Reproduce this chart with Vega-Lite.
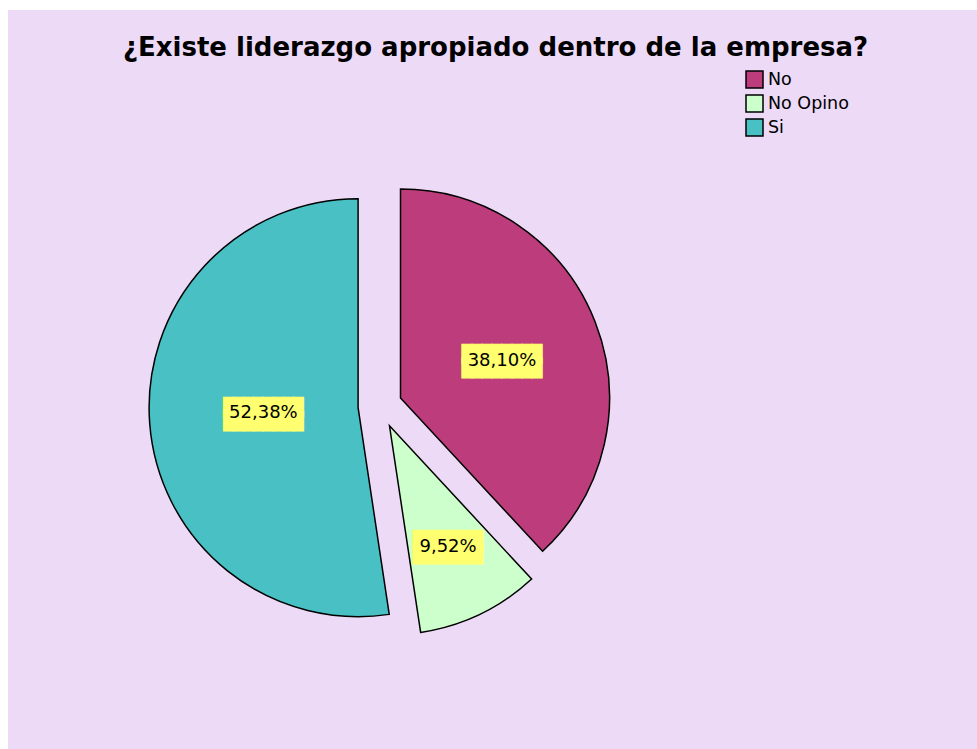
{
  "$schema": "https://vega.github.io/schema/vega-lite/v6.json",
  "width": 969,
  "height": 739,
  "autosize": {"type": "none"},
  "padding": {"left": 8, "top": 10, "right": 0, "bottom": 0},
  "background": "#ffffff",
  "view": {"fill": "#ecdaf7", "stroke": null},
  "config": {"view": {"stroke": null}},
  "title": {
    "text": "¿Existe liderazgo apropiado dentro de la empresa?",
    "font": "DejaVu Sans",
    "fontSize": 26,
    "fontWeight": "bold",
    "color": "#000000",
    "anchor": "middle",
    "frame": "group",
    "baseline": "alphabetic",
    "offset": -72,
    "dx": 3
  },
  "data": {
    "values": [
      {"cat": "No", "pct": 38.10, "label": "38,10%"},
      {"cat": "No Opino", "pct": 9.52, "label": "9,52%"},
      {"cat": "Si", "pct": 52.38, "label": "52,38%"}
    ]
  },
  "encoding": {
    "theta": {"field": "pct", "type": "quantitative", "stack": true},
    "order": {"field": "cat", "type": "nominal", "sort": "ascending"}
  },
  "layer": [
    {
      "mark": {"type": "arc", "outerRadius": 209, "stroke": "#000000", "strokeWidth": 1.5, "xOffset": -92, "yOffset": 18.5},
      "encoding": {
        "color": {
          "field": "cat", "type": "nominal",
          "scale": {"domain": ["No", "No Opino", "Si"], "range": ["#bc3c7c", "#ccffcc", "#48c0c4"]},
          "legend": {
            "orient": "none", "legendX": 737, "legendY": 60, "title": null,
            "symbolType": "square", "symbolSize": 289, "symbolStrokeColor": "#000000", "symbolStrokeWidth": 1.5,
            "symbolOpacity": 1,
            "labelFont": "DejaVu Sans", "labelFontSize": 17.5, "labelColor": "#000000",
            "rowPadding": 1, "labelOffset": 4
          }
        },
        "opacity": {"condition": {"test": "datum.cat === 'No'", "value": 1}, "value": 0}
      }
    },
    {
      "mark": {"type": "arc", "outerRadius": 209, "stroke": "#000000", "strokeWidth": 1.5, "xOffset": -103, "yOffset": 46.3},
      "encoding": {
        "color": {"field": "cat", "type": "nominal"},
        "opacity": {"condition": {"test": "datum.cat === 'No Opino'", "value": 1}, "value": 0}
      }
    },
    {
      "mark": {"type": "arc", "outerRadius": 209, "stroke": "#000000", "strokeWidth": 1.5, "xOffset": -134.4, "yOffset": 28.2},
      "encoding": {
        "color": {"field": "cat", "type": "nominal"},
        "opacity": {"condition": {"test": "datum.cat === 'Si'", "value": 1}, "value": 0}
      }
    },
    {
      "mark": {"type": "text", "radius": 109, "xOffset": -92, "yOffset": 18.5, "dy": -3, "font": "DejaVu Sans Mono", "fontSize": 16.6, "lineHeight": 14, "fill": "#ffff70", "stroke": "#ffff70", "strokeWidth": 1, "align": "center", "baseline": "middle", "text": ["████████", "████████"]},
      "encoding": {
        "detail": {"field": "cat", "type": "nominal"},
        "opacity": {"condition": {"test": "datum.cat === 'No'", "value": 1}, "value": 0}
      }
    },
    {
      "mark": {"type": "text", "radius": 135, "xOffset": -103, "yOffset": 46.3, "dy": -6, "font": "DejaVu Sans Mono", "fontSize": 16.6, "lineHeight": 14, "fill": "#ffff70", "stroke": "#ffff70", "strokeWidth": 1, "align": "center", "baseline": "middle", "text": ["███████", "███████"]},
      "encoding": {
        "detail": {"field": "cat", "type": "nominal"},
        "opacity": {"condition": {"test": "datum.cat === 'No Opino'", "value": 1}, "value": 0}
      }
    },
    {
      "mark": {"type": "text", "radius": 95, "xOffset": -134.4, "yOffset": 28.2, "dy": -7, "font": "DejaVu Sans Mono", "fontSize": 16.6, "lineHeight": 14, "fill": "#ffff70", "stroke": "#ffff70", "strokeWidth": 1, "align": "center", "baseline": "middle", "text": ["████████", "████████"]},
      "encoding": {
        "detail": {"field": "cat", "type": "nominal"},
        "opacity": {"condition": {"test": "datum.cat === 'Si'", "value": 1}, "value": 0}
      }
    },
    {
      "mark": {"type": "text", "radius": 109, "xOffset": -92, "yOffset": 18.5, "dy": 3, "font": "DejaVu Sans", "fontSize": 18, "fill": "#000000", "align": "center", "baseline": "middle"},
      "encoding": {
        "detail": {"field": "cat", "type": "nominal"},
        "text": {"field": "label", "type": "nominal"},
        "opacity": {"condition": {"test": "datum.cat === 'No'", "value": 1}, "value": 0}
      }
    },
    {
      "mark": {"type": "text", "radius": 135, "xOffset": -103, "yOffset": 46.3, "dy": 0, "font": "DejaVu Sans", "fontSize": 18, "fill": "#000000", "align": "center", "baseline": "middle"},
      "encoding": {
        "detail": {"field": "cat", "type": "nominal"},
        "text": {"field": "label", "type": "nominal"},
        "opacity": {"condition": {"test": "datum.cat === 'No Opino'", "value": 1}, "value": 0}
      }
    },
    {
      "mark": {"type": "text", "radius": 95, "xOffset": -134.4, "yOffset": 28.2, "dy": -2, "font": "DejaVu Sans", "fontSize": 18, "fill": "#000000", "align": "center", "baseline": "middle"},
      "encoding": {
        "detail": {"field": "cat", "type": "nominal"},
        "text": {"field": "label", "type": "nominal"},
        "opacity": {"condition": {"test": "datum.cat === 'Si'", "value": 1}, "value": 0}
      }
    }
  ]
}
